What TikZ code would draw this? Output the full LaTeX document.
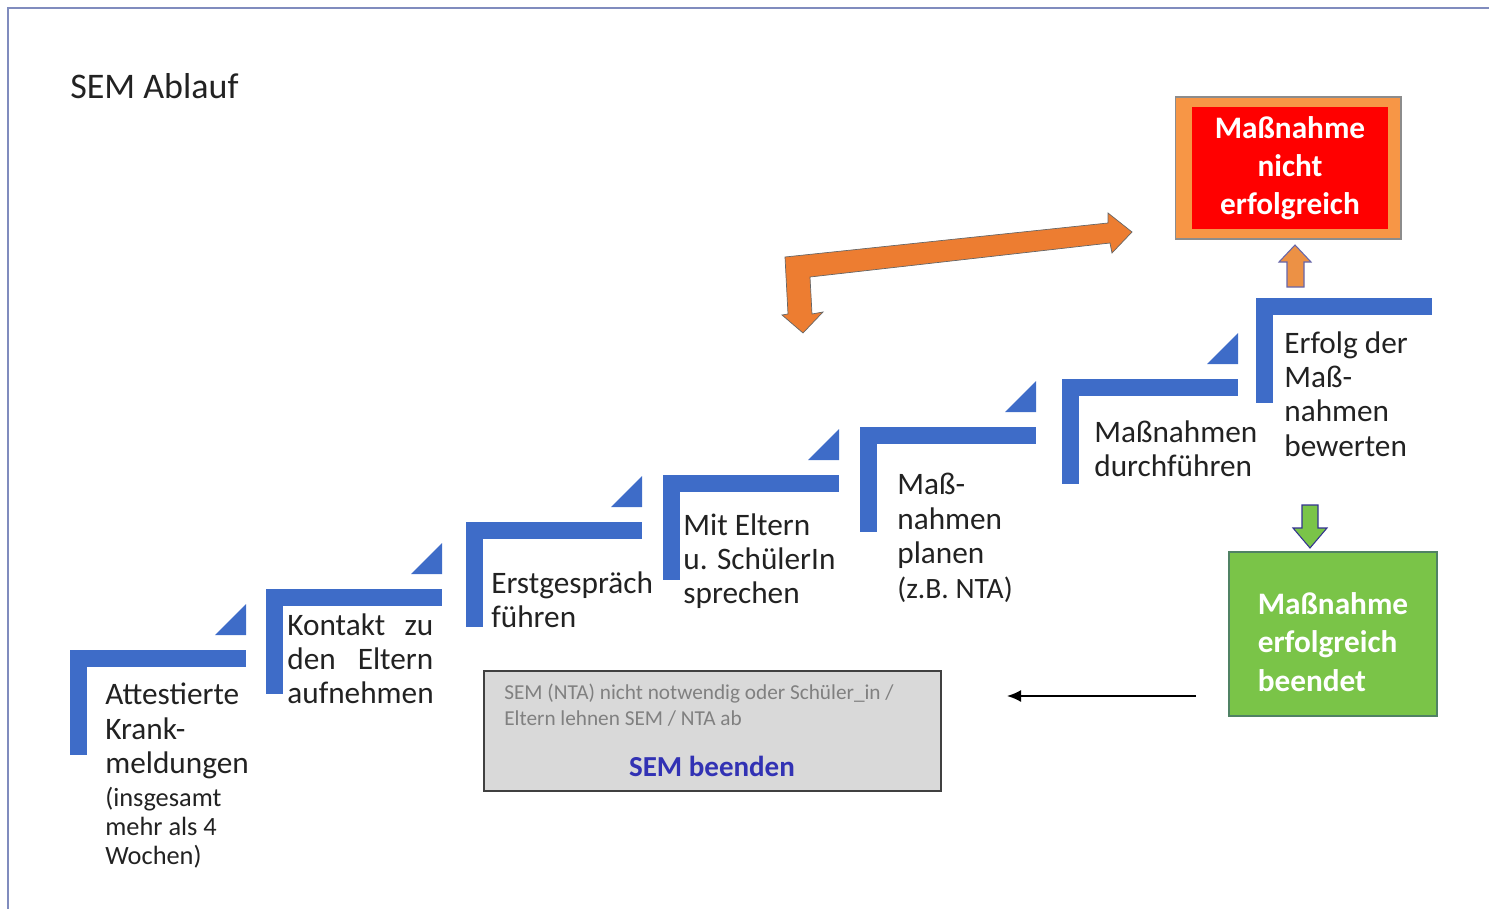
\documentclass[tikz,border=0pt]{standalone}
\usepackage{fontspec}
\setmainfont{Carlito}
\usetikzlibrary{arrows.meta}
\definecolor{stepblue}{RGB}{62,108,200}
\definecolor{framecol}{RGB}{128,140,190}
\definecolor{textgrey}{RGB}{34,34,34}
\definecolor{bendorange}{RGB}{237,125,49}
\definecolor{failorange}{RGB}{247,150,70}
\definecolor{failred}{RGB}{255,0,0}
\definecolor{okgreen}{RGB}{122,196,72}
\definecolor{okborder}{RGB}{80,130,100}
\definecolor{endgrey}{RGB}{217,217,217}
\definecolor{notegrey}{RGB}{128,128,128}
\definecolor{endblue}{RGB}{50,50,180}
\newcommand{\bigfnt}{\fontsize{17.8}{19.6}\selectfont}
\newcommand{\smallfnt}{\fontsize{15}{16.5}\selectfont}
\begin{document}
\begin{tikzpicture}[x=0.02cm,y=-0.02cm,
  stepfill/.style={fill=stepblue},
  steptext/.style={anchor=north west,inner sep=0pt,align=left,font=\bigfnt,text=textgrey},
  smalltext/.style={anchor=north west,inner sep=0pt,align=left,font=\smallfnt,text=textgrey},
  bentarrow/.style={fill=bendorange,draw=black!60,line width=0.4pt},
  failframe/.style={fill=failorange,draw=black!45,line width=0.6pt,minimum width=4.52cm,minimum height=2.84cm,inner sep=0pt},
  failtext/.style={fill=failred,text=white,align=center,minimum width=3.92cm,minimum height=2.44cm,inner sep=0pt,font=\bfseries\fontsize{17.8}{21.6}\selectfont},
  okbox/.style={fill=okgreen,draw=okborder,line width=0.8pt,minimum width=4.16cm,minimum height=3.28cm,inner sep=0pt},
  oktext/.style={text=white,align=left,inner sep=0pt,font=\bfseries\fontsize{17.8}{21.8}\selectfont},
  endbox/.style={fill=endgrey,draw=black!75,line width=0.8pt,minimum width=9.14cm,minimum height=2.4cm,inner sep=0pt},
  blockup/.style={fill=failorange!80!brown,draw=black!55!blue!60,line width=0.6pt},
  blockdown/.style={fill=okgreen,draw=blue!45!black!80,line width=0.6pt}]
\useasboundingbox (0,0) rectangle (1489,909);
\draw[framecol,line width=0.9pt] (8,909) -- (8,8) -- (1489,8);
\node[anchor=west,inner sep=0pt,font=\fontsize{20.5}{24}\selectfont,text=textgrey] (title) at (70,86) {SEM Ablauf};
% steps
\foreach \x/\y in {70/650,266/589,466/522,663/475,860/427,1062/379,1256/298}{
  \fill[stepfill] (\x,\y) rectangle ++(176,17);
  \fill[stepfill] (\x,\y) rectangle ++(17,105);
}
\foreach \x/\y in {70/650,266/589,466/522,663/475,860/427,1062/379}
  \fill[stepfill] (\x+145,\y-15) -- (\x+176,\y-15) -- (\x+176,\y-46) -- cycle;
\node[steptext] (s1) at (105,683) {Attestierte\\Krank-\\meldungen};
\node[smalltext] (s1note) at (105,787) {(insgesamt\\mehr als 4\\Wochen)};
\node[steptext,text width=2.92cm] (s2) at (287,613) {Kontakt\hfill zu\\den\hfill Eltern\\aufnehmen};
\node[steptext] (s3) at (491,571) {Erstgespräch\\führen};
\node[steptext] (s4) at (683,513) {Mit Eltern\\u. SchülerIn\\sprechen};
\node[steptext] (s5) at (897,473) {Maß-\\nahmen\\planen\\{\fontsize{16.8}{19.6}\selectfont (z.B. NTA)}};
\node[steptext] (s6) at (1094,420) {Maßnahmen\\durchführen};
\node[steptext] (s7) at (1284,331) {Erfolg der\\Maß-\\nahmen\\bewerten};
% outcome boxes
\node[failframe] (failbox) at (1288,168) {};
\node[failtext] (fail) at (1290,168) {Maßnahme\\nicht\\erfolgreich};
\node[okbox] (okframe) at (1333,634) {};
\node[oktext] (ok) at (1333,642) {Maßnahme\\erfolgreich\\beendet};
\node[endbox] (end) at (712.5,731) {};
\node[anchor=north west,inner sep=0pt,align=left,text=notegrey,font=\fontsize{12.1}{14.7}\selectfont] (endnote) at (504,684) {SEM (NTA) nicht notwendig oder Schüler\_in /\\Eltern lehnen SEM / NTA ab};
\node[inner sep=0pt,text=endblue,font=\bfseries\fontsize{16.5}{20}\selectfont] (endtitle) at (712,766) {SEM beenden};
% arrows
\draw[bentarrow] (785,257) -- (1108,223) -- (1108,213) -- (1132,232) -- (1112,253) -- (1110,243)
  -- (810,277) -- (812,314) -- (823,312) -- (803,333) -- (782,315) -- (788,314) -- cycle;
\draw[blockup] (1295,245) -- (1311,262) -- (1304,262) -- (1304,287) -- (1287,287) -- (1287,262) -- (1279,262) -- cycle;
\draw[blockdown] (1310,548) -- (1327,528) -- (1318,528) -- (1318,505) -- (1302,505) -- (1302,528) -- (1293,528) -- cycle;
\coordinate (backstart) at (1196,696);
\coordinate (backend) at (1007,696);
\draw[-{Latex[length=2.8mm,width=2.4mm]},line width=1.1pt] (backstart) -- (backend);
\end{tikzpicture}
\end{document}
